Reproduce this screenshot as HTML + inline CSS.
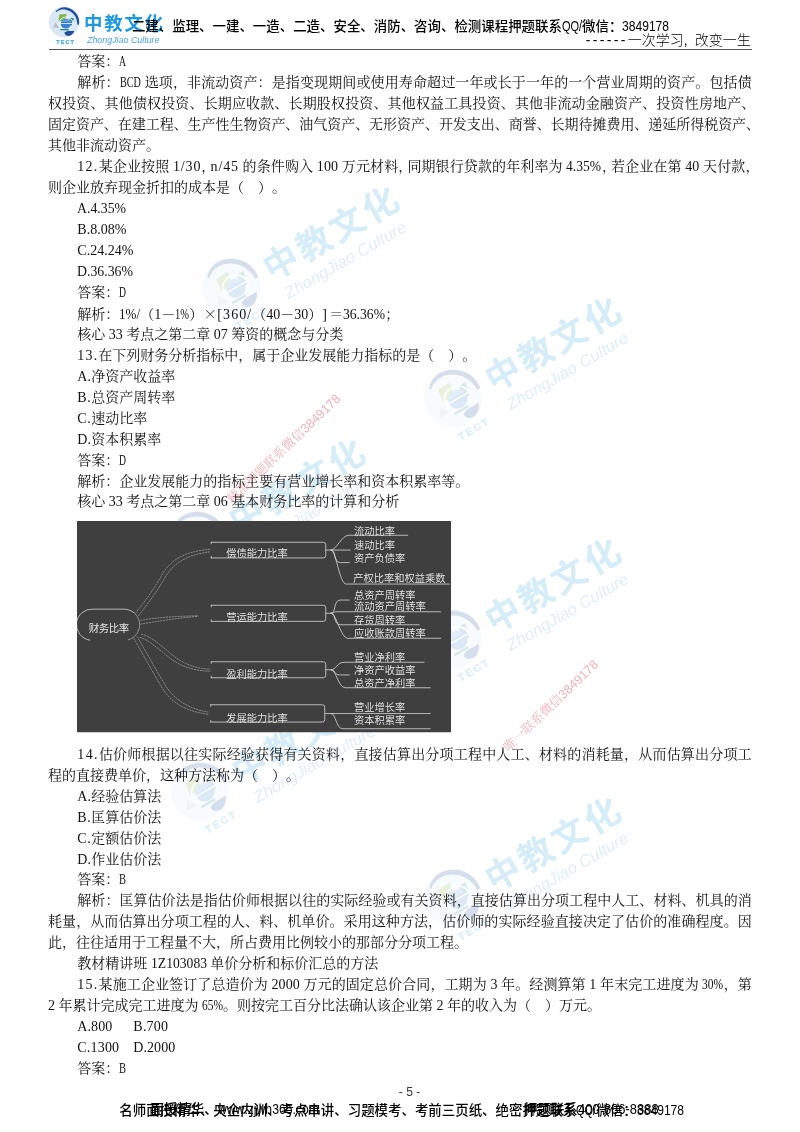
<!DOCTYPE html>
<html lang="zh-CN">
<head>
<meta charset="utf-8">
<title>中教文化 - 5 -</title>
<style>
html,body{margin:0;padding:0;background:#fff;}
body{width:800px;height:1132px;position:relative;overflow:hidden;font-kerning:none;text-spacing-trim:space-all;text-autospace:no-autospace;
 font-family:"Liberation Serif","Noto Serif CJK SC",serif;color:#000;}
.ln{position:absolute;white-space:pre;font-size:14px;line-height:21px;height:21px;color:#111;}
#page{position:absolute;left:0;top:0;width:800px;height:1132px;will-change:transform;}
.h{display:inline-block;white-space:pre;letter-spacing:0;transform-origin:0 50%;}
.m{font-family:"Liberation Mono",monospace;font-size:13.3px;}
.fw{display:inline-block;width:14px;text-align:center;letter-spacing:0;font-family:"Noto Serif CJK SC",serif;}
.hd{position:absolute;white-space:pre;font-family:"Liberation Sans","Noto Sans CJK SC",sans-serif;color:#000;}
.rule{position:absolute;left:48.5px;top:48.8px;width:703.5px;height:1.2px;background:#555;}
svg.logo{position:absolute;left:44px;top:0px;overflow:visible;}
svg.wm{position:absolute;overflow:visible;transform-origin:20px 22px;transform:rotate(-30deg) scale(1.9);opacity:.185;}
.red{position:absolute;white-space:nowrap;font-size:12.7px;line-height:14px;color:#d8404c;opacity:.42;
 transform:translate(-50%,-50%) rotate(-43.8deg);font-family:"Liberation Sans","Noto Serif CJK SC",serif;}
#dia{position:absolute;left:76.75px;top:521.25px;}
</style>
</head>
<body>
<div id="page">
<!-- watermarks (behind) -->
<svg class="wm" style="left:211.3px;top:264.5px" width="130" height="48" viewBox="0 0 130 48">
<circle cx="20" cy="22" r="15.3" fill="#d9e7f6"/>
<path d="M11.6 11.6 C13.6 8.6 17.4 7 21 7.2 C26 7.5 30.6 10.4 33.4 15 C35 17.8 35.6 21.4 35 24.8 L33.3 24.6 C33.3 21.6 32.6 18.6 31 16 C28.6 12.2 24.8 9.8 20.6 9.4 C17.6 9.2 14.6 10.2 12.4 12.2 Z" fill="#1f4f9e"/>
<path d="M20.4 32.6 C21.6 31.2 24 30.8 26.4 31 C28 31.1 29.4 31 30.4 30.8 C29.6 33.6 27.2 35.8 24.4 36 C22.4 36 20.6 34.6 20.4 32.6 Z" fill="#1f4f9e"/>
<path d="M15.3 14.4 L22.6 14.1 L21.2 20.8 L14.4 21.6 Z" fill="#7db54a"/>
<path d="M25.6 18 L29.8 18 L28.2 25.2 L25 25.2 Z" fill="#2f8c94"/>
<path d="M8.8 27.6 L11.7 22.6 L14.8 27.8 Z" fill="#b8bcc8"/>
<ellipse cx="21.9" cy="23.8" rx="5.1" ry="4.8" fill="#3b80cf"/>
<path d="M17.2 22 C18.4 19.6 21 18.6 23.6 19.2 C25.2 19.6 26.4 20.8 26.8 22.2 Z" fill="#5c9bdc"/>
<ellipse cx="21.9" cy="23.3" rx="6.9" ry="6.3" fill="none" stroke="#eef8f2" stroke-width="0.95"/>
<path d="M15.2 23.5 H28.6" stroke="#eef8fb" stroke-width="0.8" fill="none"/>
<path d="M16.3 29 L25 29 L24.4 30.4 L16.3 30.3 Z" fill="#2f8c94"/>
<text x="21.6" y="43.5" text-anchor="middle" font-family="'Liberation Sans','DejaVu Sans',sans-serif" font-weight="700" font-size="5.4" letter-spacing="1.1" stroke="#45aadf" stroke-width="0.25" fill="#45aadf">TECT</text>
<text x="40" y="30.4" font-family="'Liberation Sans','Noto Sans CJK SC','WenQuanYi Zen Hei',sans-serif" font-weight="700" font-size="18.4" textLength="79" lengthAdjust="spacing" fill="#1e98de">中教文化</text>
<text x="43" y="42.7" font-family="'Liberation Sans','DejaVu Sans',sans-serif" font-style="italic" font-size="8.6" textLength="72.5" lengthAdjust="spacingAndGlyphs" fill="#4b9fdc">ZhongJiao Culture</text>
</svg>
<svg class="wm" style="left:177.0px;top:518.0px" width="130" height="48" viewBox="0 0 130 48">
<circle cx="20" cy="22" r="15.3" fill="#d9e7f6"/>
<path d="M11.6 11.6 C13.6 8.6 17.4 7 21 7.2 C26 7.5 30.6 10.4 33.4 15 C35 17.8 35.6 21.4 35 24.8 L33.3 24.6 C33.3 21.6 32.6 18.6 31 16 C28.6 12.2 24.8 9.8 20.6 9.4 C17.6 9.2 14.6 10.2 12.4 12.2 Z" fill="#1f4f9e"/>
<path d="M20.4 32.6 C21.6 31.2 24 30.8 26.4 31 C28 31.1 29.4 31 30.4 30.8 C29.6 33.6 27.2 35.8 24.4 36 C22.4 36 20.6 34.6 20.4 32.6 Z" fill="#1f4f9e"/>
<path d="M15.3 14.4 L22.6 14.1 L21.2 20.8 L14.4 21.6 Z" fill="#7db54a"/>
<path d="M25.6 18 L29.8 18 L28.2 25.2 L25 25.2 Z" fill="#2f8c94"/>
<path d="M8.8 27.6 L11.7 22.6 L14.8 27.8 Z" fill="#b8bcc8"/>
<ellipse cx="21.9" cy="23.8" rx="5.1" ry="4.8" fill="#3b80cf"/>
<path d="M17.2 22 C18.4 19.6 21 18.6 23.6 19.2 C25.2 19.6 26.4 20.8 26.8 22.2 Z" fill="#5c9bdc"/>
<ellipse cx="21.9" cy="23.3" rx="6.9" ry="6.3" fill="none" stroke="#eef8f2" stroke-width="0.95"/>
<path d="M15.2 23.5 H28.6" stroke="#eef8fb" stroke-width="0.8" fill="none"/>
<path d="M16.3 29 L25 29 L24.4 30.4 L16.3 30.3 Z" fill="#2f8c94"/>
<text x="21.6" y="43.5" text-anchor="middle" font-family="'Liberation Sans','DejaVu Sans',sans-serif" font-weight="700" font-size="5.4" letter-spacing="1.1" stroke="#45aadf" stroke-width="0.25" fill="#45aadf">TECT</text>
<text x="40" y="30.4" font-family="'Liberation Sans','Noto Sans CJK SC','WenQuanYi Zen Hei',sans-serif" font-weight="700" font-size="18.4" textLength="79" lengthAdjust="spacing" fill="#1e98de">中教文化</text>
<text x="43" y="42.7" font-family="'Liberation Sans','DejaVu Sans',sans-serif" font-style="italic" font-size="8.6" textLength="72.5" lengthAdjust="spacingAndGlyphs" fill="#4b9fdc">ZhongJiao Culture</text>
</svg>
<svg class="wm" style="left:433.4px;top:375.5px" width="130" height="48" viewBox="0 0 130 48">
<circle cx="20" cy="22" r="15.3" fill="#d9e7f6"/>
<path d="M11.6 11.6 C13.6 8.6 17.4 7 21 7.2 C26 7.5 30.6 10.4 33.4 15 C35 17.8 35.6 21.4 35 24.8 L33.3 24.6 C33.3 21.6 32.6 18.6 31 16 C28.6 12.2 24.8 9.8 20.6 9.4 C17.6 9.2 14.6 10.2 12.4 12.2 Z" fill="#1f4f9e"/>
<path d="M20.4 32.6 C21.6 31.2 24 30.8 26.4 31 C28 31.1 29.4 31 30.4 30.8 C29.6 33.6 27.2 35.8 24.4 36 C22.4 36 20.6 34.6 20.4 32.6 Z" fill="#1f4f9e"/>
<path d="M15.3 14.4 L22.6 14.1 L21.2 20.8 L14.4 21.6 Z" fill="#7db54a"/>
<path d="M25.6 18 L29.8 18 L28.2 25.2 L25 25.2 Z" fill="#2f8c94"/>
<path d="M8.8 27.6 L11.7 22.6 L14.8 27.8 Z" fill="#b8bcc8"/>
<ellipse cx="21.9" cy="23.8" rx="5.1" ry="4.8" fill="#3b80cf"/>
<path d="M17.2 22 C18.4 19.6 21 18.6 23.6 19.2 C25.2 19.6 26.4 20.8 26.8 22.2 Z" fill="#5c9bdc"/>
<ellipse cx="21.9" cy="23.3" rx="6.9" ry="6.3" fill="none" stroke="#eef8f2" stroke-width="0.95"/>
<path d="M15.2 23.5 H28.6" stroke="#eef8fb" stroke-width="0.8" fill="none"/>
<path d="M16.3 29 L25 29 L24.4 30.4 L16.3 30.3 Z" fill="#2f8c94"/>
<text x="21.6" y="43.5" text-anchor="middle" font-family="'Liberation Sans','DejaVu Sans',sans-serif" font-weight="700" font-size="5.4" letter-spacing="1.1" stroke="#45aadf" stroke-width="0.25" fill="#45aadf">TECT</text>
<text x="40" y="30.4" font-family="'Liberation Sans','Noto Sans CJK SC','WenQuanYi Zen Hei',sans-serif" font-weight="700" font-size="18.4" textLength="79" lengthAdjust="spacing" fill="#1e98de">中教文化</text>
<text x="43" y="42.7" font-family="'Liberation Sans','DejaVu Sans',sans-serif" font-style="italic" font-size="8.6" textLength="72.5" lengthAdjust="spacingAndGlyphs" fill="#4b9fdc">ZhongJiao Culture</text>
</svg>
<svg class="wm" style="left:433.4px;top:616.8px" width="130" height="48" viewBox="0 0 130 48">
<circle cx="20" cy="22" r="15.3" fill="#d9e7f6"/>
<path d="M11.6 11.6 C13.6 8.6 17.4 7 21 7.2 C26 7.5 30.6 10.4 33.4 15 C35 17.8 35.6 21.4 35 24.8 L33.3 24.6 C33.3 21.6 32.6 18.6 31 16 C28.6 12.2 24.8 9.8 20.6 9.4 C17.6 9.2 14.6 10.2 12.4 12.2 Z" fill="#1f4f9e"/>
<path d="M20.4 32.6 C21.6 31.2 24 30.8 26.4 31 C28 31.1 29.4 31 30.4 30.8 C29.6 33.6 27.2 35.8 24.4 36 C22.4 36 20.6 34.6 20.4 32.6 Z" fill="#1f4f9e"/>
<path d="M15.3 14.4 L22.6 14.1 L21.2 20.8 L14.4 21.6 Z" fill="#7db54a"/>
<path d="M25.6 18 L29.8 18 L28.2 25.2 L25 25.2 Z" fill="#2f8c94"/>
<path d="M8.8 27.6 L11.7 22.6 L14.8 27.8 Z" fill="#b8bcc8"/>
<ellipse cx="21.9" cy="23.8" rx="5.1" ry="4.8" fill="#3b80cf"/>
<path d="M17.2 22 C18.4 19.6 21 18.6 23.6 19.2 C25.2 19.6 26.4 20.8 26.8 22.2 Z" fill="#5c9bdc"/>
<ellipse cx="21.9" cy="23.3" rx="6.9" ry="6.3" fill="none" stroke="#eef8f2" stroke-width="0.95"/>
<path d="M15.2 23.5 H28.6" stroke="#eef8fb" stroke-width="0.8" fill="none"/>
<path d="M16.3 29 L25 29 L24.4 30.4 L16.3 30.3 Z" fill="#2f8c94"/>
<text x="21.6" y="43.5" text-anchor="middle" font-family="'Liberation Sans','DejaVu Sans',sans-serif" font-weight="700" font-size="5.4" letter-spacing="1.1" stroke="#45aadf" stroke-width="0.25" fill="#45aadf">TECT</text>
<text x="40" y="30.4" font-family="'Liberation Sans','Noto Sans CJK SC','WenQuanYi Zen Hei',sans-serif" font-weight="700" font-size="18.4" textLength="79" lengthAdjust="spacing" fill="#1e98de">中教文化</text>
<text x="43" y="42.7" font-family="'Liberation Sans','DejaVu Sans',sans-serif" font-style="italic" font-size="8.6" textLength="72.5" lengthAdjust="spacingAndGlyphs" fill="#4b9fdc">ZhongJiao Culture</text>
</svg>
<svg class="wm" style="left:180.0px;top:768.6px" width="130" height="48" viewBox="0 0 130 48">
<circle cx="20" cy="22" r="15.3" fill="#d9e7f6"/>
<path d="M11.6 11.6 C13.6 8.6 17.4 7 21 7.2 C26 7.5 30.6 10.4 33.4 15 C35 17.8 35.6 21.4 35 24.8 L33.3 24.6 C33.3 21.6 32.6 18.6 31 16 C28.6 12.2 24.8 9.8 20.6 9.4 C17.6 9.2 14.6 10.2 12.4 12.2 Z" fill="#1f4f9e"/>
<path d="M20.4 32.6 C21.6 31.2 24 30.8 26.4 31 C28 31.1 29.4 31 30.4 30.8 C29.6 33.6 27.2 35.8 24.4 36 C22.4 36 20.6 34.6 20.4 32.6 Z" fill="#1f4f9e"/>
<path d="M15.3 14.4 L22.6 14.1 L21.2 20.8 L14.4 21.6 Z" fill="#7db54a"/>
<path d="M25.6 18 L29.8 18 L28.2 25.2 L25 25.2 Z" fill="#2f8c94"/>
<path d="M8.8 27.6 L11.7 22.6 L14.8 27.8 Z" fill="#b8bcc8"/>
<ellipse cx="21.9" cy="23.8" rx="5.1" ry="4.8" fill="#3b80cf"/>
<path d="M17.2 22 C18.4 19.6 21 18.6 23.6 19.2 C25.2 19.6 26.4 20.8 26.8 22.2 Z" fill="#5c9bdc"/>
<ellipse cx="21.9" cy="23.3" rx="6.9" ry="6.3" fill="none" stroke="#eef8f2" stroke-width="0.95"/>
<path d="M15.2 23.5 H28.6" stroke="#eef8fb" stroke-width="0.8" fill="none"/>
<path d="M16.3 29 L25 29 L24.4 30.4 L16.3 30.3 Z" fill="#2f8c94"/>
<text x="21.6" y="43.5" text-anchor="middle" font-family="'Liberation Sans','DejaVu Sans',sans-serif" font-weight="700" font-size="5.4" letter-spacing="1.1" stroke="#45aadf" stroke-width="0.25" fill="#45aadf">TECT</text>
<text x="40" y="30.4" font-family="'Liberation Sans','Noto Sans CJK SC','WenQuanYi Zen Hei',sans-serif" font-weight="700" font-size="18.4" textLength="79" lengthAdjust="spacing" fill="#1e98de">中教文化</text>
<text x="43" y="42.7" font-family="'Liberation Sans','DejaVu Sans',sans-serif" font-style="italic" font-size="8.6" textLength="72.5" lengthAdjust="spacingAndGlyphs" fill="#4b9fdc">ZhongJiao Culture</text>
</svg>
<svg class="wm" style="left:433.4px;top:875.5px" width="130" height="48" viewBox="0 0 130 48">
<circle cx="20" cy="22" r="15.3" fill="#d9e7f6"/>
<path d="M11.6 11.6 C13.6 8.6 17.4 7 21 7.2 C26 7.5 30.6 10.4 33.4 15 C35 17.8 35.6 21.4 35 24.8 L33.3 24.6 C33.3 21.6 32.6 18.6 31 16 C28.6 12.2 24.8 9.8 20.6 9.4 C17.6 9.2 14.6 10.2 12.4 12.2 Z" fill="#1f4f9e"/>
<path d="M20.4 32.6 C21.6 31.2 24 30.8 26.4 31 C28 31.1 29.4 31 30.4 30.8 C29.6 33.6 27.2 35.8 24.4 36 C22.4 36 20.6 34.6 20.4 32.6 Z" fill="#1f4f9e"/>
<path d="M15.3 14.4 L22.6 14.1 L21.2 20.8 L14.4 21.6 Z" fill="#7db54a"/>
<path d="M25.6 18 L29.8 18 L28.2 25.2 L25 25.2 Z" fill="#2f8c94"/>
<path d="M8.8 27.6 L11.7 22.6 L14.8 27.8 Z" fill="#b8bcc8"/>
<ellipse cx="21.9" cy="23.8" rx="5.1" ry="4.8" fill="#3b80cf"/>
<path d="M17.2 22 C18.4 19.6 21 18.6 23.6 19.2 C25.2 19.6 26.4 20.8 26.8 22.2 Z" fill="#5c9bdc"/>
<ellipse cx="21.9" cy="23.3" rx="6.9" ry="6.3" fill="none" stroke="#eef8f2" stroke-width="0.95"/>
<path d="M15.2 23.5 H28.6" stroke="#eef8fb" stroke-width="0.8" fill="none"/>
<path d="M16.3 29 L25 29 L24.4 30.4 L16.3 30.3 Z" fill="#2f8c94"/>
<text x="21.6" y="43.5" text-anchor="middle" font-family="'Liberation Sans','DejaVu Sans',sans-serif" font-weight="700" font-size="5.4" letter-spacing="1.1" stroke="#45aadf" stroke-width="0.25" fill="#45aadf">TECT</text>
<text x="40" y="30.4" font-family="'Liberation Sans','Noto Sans CJK SC','WenQuanYi Zen Hei',sans-serif" font-weight="700" font-size="18.4" textLength="79" lengthAdjust="spacing" fill="#1e98de">中教文化</text>
<text x="43" y="42.7" font-family="'Liberation Sans','DejaVu Sans',sans-serif" font-style="italic" font-size="8.6" textLength="72.5" lengthAdjust="spacingAndGlyphs" fill="#4b9fdc">ZhongJiao Culture</text>
</svg>
<!-- header -->
<svg class="logo" style="" width="130" height="48" viewBox="0 0 130 48">
<circle cx="20" cy="22" r="15.3" fill="#d9e7f6"/>
<path d="M11.6 11.6 C13.6 8.6 17.4 7 21 7.2 C26 7.5 30.6 10.4 33.4 15 C35 17.8 35.6 21.4 35 24.8 L33.3 24.6 C33.3 21.6 32.6 18.6 31 16 C28.6 12.2 24.8 9.8 20.6 9.4 C17.6 9.2 14.6 10.2 12.4 12.2 Z" fill="#1f4f9e"/>
<path d="M20.4 32.6 C21.6 31.2 24 30.8 26.4 31 C28 31.1 29.4 31 30.4 30.8 C29.6 33.6 27.2 35.8 24.4 36 C22.4 36 20.6 34.6 20.4 32.6 Z" fill="#1f4f9e"/>
<path d="M15.3 14.4 L22.6 14.1 L21.2 20.8 L14.4 21.6 Z" fill="#7db54a"/>
<path d="M25.6 18 L29.8 18 L28.2 25.2 L25 25.2 Z" fill="#2f8c94"/>
<path d="M8.8 27.6 L11.7 22.6 L14.8 27.8 Z" fill="#b8bcc8"/>
<ellipse cx="21.9" cy="23.8" rx="5.1" ry="4.8" fill="#3b80cf"/>
<path d="M17.2 22 C18.4 19.6 21 18.6 23.6 19.2 C25.2 19.6 26.4 20.8 26.8 22.2 Z" fill="#5c9bdc"/>
<ellipse cx="21.9" cy="23.3" rx="6.9" ry="6.3" fill="none" stroke="#eef8f2" stroke-width="0.95"/>
<path d="M15.2 23.5 H28.6" stroke="#eef8fb" stroke-width="0.8" fill="none"/>
<path d="M16.3 29 L25 29 L24.4 30.4 L16.3 30.3 Z" fill="#2f8c94"/>
<text x="21.6" y="43.5" text-anchor="middle" font-family="'Liberation Sans','DejaVu Sans',sans-serif" font-weight="700" font-size="5.4" letter-spacing="1.1" stroke="#45aadf" stroke-width="0.25" fill="#45aadf">TECT</text>
<text x="40" y="30.4" font-family="'Liberation Sans','Noto Sans CJK SC','WenQuanYi Zen Hei',sans-serif" font-weight="700" font-size="18.4" textLength="79" lengthAdjust="spacing" fill="#1e98de">中教文化</text>
<text x="43" y="42.7" font-family="'Liberation Sans','DejaVu Sans',sans-serif" font-style="italic" font-size="8.6" textLength="72.5" lengthAdjust="spacingAndGlyphs" fill="#4b9fdc">ZhongJiao Culture</text>
</svg>
<div class="hd" style="left:131.9px;top:16.3px;font-size:13.45px;line-height:19px;font-weight:500">二建、监理、一建、一造、二造、安全、消防、咨询、检测课程押题联系<span class="h" style="font-size:15.33px;width:20.17px;transform:scaleX(0.7176);margin-right:0.000px">QQ/</span>微信：<span class="h" style="font-size:15.33px;width:47.07px;transform:scaleX(0.7886);margin-right:0.000px">3849178</span></div>
<div class="hd" style="left:585.8px;top:30.8px;font-size:14px;line-height:19px;font-weight:300"><span style="letter-spacing:2.338px">------</span>一次学习<span style="letter-spacing:3.110px">,</span> 改变一生</div>
<div class="rule"></div>
<!-- diagram -->
<svg id="dia" width="374.5" height="211.25" viewBox="76.75 521.25 374.5 211.25">
<rect x="76.75" y="521.25" width="374.5" height="211.25" fill="#3f3f3f"/>
<g fill="none" stroke="#d8d8d8" stroke-width="0.8" stroke-linecap="round">
<path d="M89.5 640.4 A15.6 15.6 0 0 1 92.8 609.4 H123.8 C127 609.4 130.5 610.6 133 612.4"/>
<path d="M133 612.4 A15.6 15.6 0 0 1 128 640" stroke-width="0.55" stroke-dasharray="2.5 0.8"/>
<path d="M211 542.5 H323.0 Q325.5 542.5 325.5 545.0 V555.7 Q325.5 558.2 323.0 558.2 H211"/>
<path d="M211 542.5 v1.6 M211 558.2 v-1.6"/>
<path d="M211 605.5 H323.0 Q325.5 605.5 325.5 608.0 V619.1 Q325.5 621.6 323.0 621.6 H211"/>
<path d="M211 605.5 v1.6 M211 621.6 v-1.6"/>
<path d="M211 662 H323.0 Q325.5 662 325.5 664.5 V675.5 Q325.5 678 323.0 678 H211"/>
<path d="M211 662 v1.6 M211 678 v-1.6"/>
<path d="M210.5 705 H322.0 Q324.5 705 324.5 707.5 V719.8 Q324.5 722.3 322.0 722.3 H210.5"/>
<path d="M210.5 705 v1.6 M210.5 722.3 v-1.6"/>
</g>
<g fill="none" stroke="#cfcfcf" stroke-width="0.55" stroke-dasharray="2.2 0.7" opacity="0.9">
<path d="M135 613.8 C145 601 152 592 160 578 C168 563 180 552 210 549.5"/>
<path d="M138 616.3 C148 603 156 593 163.5 580 C171 566 183 555.5 210 552"/>
<path d="M140 620.6 C155 618 175 616.5 198 616"/>
<path d="M140 624.4 C155 622 175 618.5 198 616.6"/>
<path d="M141 634.5 C150 636 160 645 170 653.5 C180 662 192 668.5 210 669.5"/>
<path d="M139.5 637.5 C148 640 158 649 168 657 C178 665 190 671 210 671.5"/>
<path d="M133.5 638.5 C140 650 150 668 160 685 C168 699 180 711 208 714.5"/>
<path d="M137 637 C144 649 154 667 163.5 683 C171 696 184 708.5 208 712.3"/>
</g>
<g fill="none" stroke="#d8d8d8" stroke-width="0.8" stroke-linecap="round">
<path d="M325.5 550.3 H331"/>
<path d="M331 550.3 C336 550.3 341.5 535.5 348.5 535.5 H407.5"/>
<path d="M331 550.3 H350"/>
<path d="M331 550.3 C336 550.3 333 562.8 340 562.8 H349"/>
<path d="M331 550.3 C336 550.3 339 584.3 346 584.3 H449"/>
<path d="M325.5 613.5 H331"/>
<path d="M331 613.5 C336 613.5 333 600.3 340 600.3 H349"/>
<path d="M331 613.5 C336 613.5 330.5 612 337.5 612 H440.5"/>
<path d="M331 613.5 C336 613.5 333 625 340 625 H418.8"/>
<path d="M331 613.5 C336 613.5 340.5 638.5 347.5 638.5 H440.5"/>
<path d="M325.5 670 H331"/>
<path d="M331 670 C336 670 336.8 662.5 343.8 662.5 H423.8"/>
<path d="M331 670 C336 670 333 675.2 340 675.2 H349"/>
<path d="M331 670 C336 670 338 688 345 688 H430"/>
<path d="M325.5 713.8 H331"/>
<path d="M331 713.8 H430"/>
<path d="M331 713.8 C336 713.8 335.5 729 342.5 729 H430"/>
</g>
<g font-family="'Liberation Sans','Noto Sans CJK SC','WenQuanYi Zen Hei',sans-serif" font-size="10.25" font-weight="350" fill="#e8e8e8">
<text x="88.6" y="631.8" font-size="10.4" font-weight="400" textLength="40.4">财务比率</text>
<text x="226" y="557.1" textLength="61.5">偿债能力比率</text>
<text x="226" y="621.4" textLength="61.5">营运能力比率</text>
<text x="226" y="678.2" textLength="61.5">盈利能力比率</text>
<text x="226" y="722.2" textLength="61.5">发展能力比率</text>
<text x="353.75" y="535.6" textLength="41.0">流动比率</text>
<text x="353.75" y="548.9" textLength="41.0">速动比率</text>
<text x="353.75" y="561.9" textLength="51.2">资产负债率</text>
<text x="353" y="582.4" textLength="92.2">产权比率和权益乘数</text>
<text x="353.75" y="598.9" textLength="61.5">总资产周转率</text>
<text x="353.75" y="610.4" textLength="71.8">流动资产周转率</text>
<text x="353.75" y="623.9" textLength="51.2">存货周转率</text>
<text x="353.75" y="637.4" textLength="71.8">应收账款周转率</text>
<text x="353.75" y="661.4" textLength="51.2">营业净利率</text>
<text x="353.75" y="674.4" textLength="61.5">净资产收益率</text>
<text x="353.75" y="686.9" textLength="61.5">总资产净利率</text>
<text x="353.75" y="710.9" textLength="51.2">营业增长率</text>
<text x="353.75" y="724.4" textLength="51.2">资本积累率</text>
</g>
</svg>
<!-- body text -->
<div class="ln" style="left:77.3px;top:51.10px">答案：<span class="h" style="width:7.00px;transform:scaleX(0.6924);margin-right:0.000px">A</span></div>
<div class="ln" style="left:77.3px;top:72.07px;letter-spacing:0.120px">解析：<span class="h" style="width:21.00px;transform:scaleX(0.7295);margin-right:0.360px">BCD</span> 选项，非流动资产：是指变现期间或使用寿命超过一年或长于一年的一个营业周期的资产。包括债</div>
<div class="ln" style="left:48px;top:93.04px;letter-spacing:0.150px">权投资、其他债权投资、长期应收款、长期股权投资、其他权益工具投资、其他非流动金融资产、投资性房地产、</div>
<div class="ln" style="left:48px;top:114.01px;letter-spacing:-0.039px">固定资产、在建工程、生产性生物资产、油气资产、无形资产、开发支出、商誉、长期待摊费用、递延所得税资产、</div>
<div class="ln" style="left:48px;top:134.98px">其他非流动资产。</div>
<div class="ln" style="left:77.3px;top:155.95px;letter-spacing:0.118px"><span style="letter-spacing:1.285px">12.</span>某企业按照 <span style="letter-spacing:0.896px">1/30</span><span style="margin-right:-5px">，</span><span style="letter-spacing:0.896px">n/45</span> 的条件购入 <span style="letter-spacing:0.118px">100</span> 万元材料<span style="margin-right:-5px">，</span>同期银行贷款的年利率为 <span class="h" style="width:35.00px;transform:scaleX(0.9679);margin-right:0.592px">4.35%</span><span style="margin-right:-5px">，</span>若企业在第 <span style="letter-spacing:0.118px">40</span> 天付款，</div>
<div class="ln" style="left:48px;top:176.92px">则企业放弃现金折扣的成本是（  ）。</div>
<div class="ln" style="left:77.3px;top:197.89px"><span class="h" style="width:49.00px;transform:scaleX(0.9845);margin-right:0.000px">A.4.35%</span></div>
<div class="ln" style="left:77.3px;top:218.86px"><span style="letter-spacing:0.000px">B.8.08%</span></div>
<div class="ln" style="left:77.3px;top:239.83px"><span style="letter-spacing:0.000px">C.24.24%</span></div>
<div class="ln" style="left:77.3px;top:260.80px"><span class="h" style="width:56.00px;transform:scaleX(0.9864);margin-right:0.000px">D.36.36%</span></div>
<div class="ln" style="left:77.3px;top:281.77px">答案：<span class="h" style="width:7.00px;transform:scaleX(0.6924);margin-right:0.000px">D</span></div>
<div class="ln" style="left:77.3px;top:302.74px">解析：<span class="h" style="width:21.00px;transform:scaleX(0.9312);margin-right:0.000px">1%/</span>（<span style="letter-spacing:0.000px">1</span>－<span class="h" style="width:14.00px;transform:scaleX(0.7502);margin-right:0.000px">1%</span>）<span class="fw">×</span><span style="letter-spacing:1.090px">[360/</span>（<span style="letter-spacing:0.000px">40</span>－<span style="letter-spacing:0.000px">30</span>）<span style="letter-spacing:2.338px">]</span>＝<span class="h" style="width:42.00px;transform:scaleX(0.9731);margin-right:0.000px">36.36%</span>；</div>
<div class="ln" style="left:77.3px;top:323.71px">核心 <span style="letter-spacing:0.000px">33</span> 考点之第二章 <span style="letter-spacing:0.000px">07</span> 筹资的概念与分类</div>
<div class="ln" style="left:77.3px;top:344.68px"><span style="letter-spacing:1.167px">13.</span>在下列财务分析指标中，属于企业发展能力指标的是（  ）。</div>
<div class="ln" style="left:77.3px;top:365.65px"><span style="letter-spacing:0.195px">A.</span>净资产收益率</div>
<div class="ln" style="left:77.3px;top:386.62px"><span style="letter-spacing:0.581px">B.</span>总资产周转率</div>
<div class="ln" style="left:77.3px;top:407.59px"><span style="letter-spacing:0.581px">C.</span>速动比率</div>
<div class="ln" style="left:77.3px;top:428.56px"><span style="letter-spacing:0.195px">D.</span>资本积累率</div>
<div class="ln" style="left:77.3px;top:449.53px">答案：<span class="h" style="width:7.00px;transform:scaleX(0.6924);margin-right:0.000px">D</span></div>
<div class="ln" style="left:77.3px;top:470.50px">解析：企业发展能力的指标主要有营业增长率和资本积累率等。</div>
<div class="ln" style="left:77.3px;top:491.47px">核心 <span style="letter-spacing:0.000px">33</span> 考点之第二章 <span style="letter-spacing:0.000px">06</span> 基本财务比率的计算和分析</div>
<div class="ln" style="left:77.3px;top:743.80px;letter-spacing:0.194px"><span style="letter-spacing:1.361px">14.</span>估价师根据以往实际经验获得有关资料，直接估算出分项工程中人工、材料的消耗量，从而估算出分项工</div>
<div class="ln" style="left:48px;top:764.74px">程的直接费单价，这种方法称为（  ）。</div>
<div class="ln" style="left:77.3px;top:785.68px"><span style="letter-spacing:0.195px">A.</span>经验估算法</div>
<div class="ln" style="left:77.3px;top:806.62px"><span style="letter-spacing:0.581px">B.</span>匡算估价法</div>
<div class="ln" style="left:77.3px;top:827.56px"><span style="letter-spacing:0.581px">C.</span>定额估价法</div>
<div class="ln" style="left:77.3px;top:848.50px"><span style="letter-spacing:0.195px">D.</span>作业估价法</div>
<div class="ln" style="left:77.3px;top:869.44px">答案：<span class="h" style="width:7.00px;transform:scaleX(0.7496);margin-right:0.000px">B</span></div>
<div class="ln" style="left:77.3px;top:890.38px;letter-spacing:0.052px">解析：匡算估价法是指估价师根据以往的实际经验或有关资料，直接估算出分项工程中人工、材料、机具的消</div>
<div class="ln" style="left:48px;top:911.32px;letter-spacing:0.076px">耗量，从而估算出分项工程的人、料、机单价。采用这种方法，估价师的实际经验直接决定了估价的准确程度。因</div>
<div class="ln" style="left:48px;top:932.26px">此，往往适用于工程量不大，所占费用比例较小的那部分分项工程。</div>
<div class="ln" style="left:77.3px;top:953.20px">教材精讲班 <span class="h" style="width:56.00px;transform:scaleX(0.9730);margin-right:0.000px">1Z103083</span> 单价分析和标价汇总的方法</div>
<div class="ln" style="left:77.3px;top:974.14px;letter-spacing:0.102px"><span style="letter-spacing:1.268px">15.</span>某施工企业签订了总造价为 <span style="letter-spacing:0.102px">2000</span> 万元的固定总价合同，工期为 <span style="letter-spacing:0.102px">3</span> 年。经测算第 <span style="letter-spacing:0.102px">1</span> 年末完工进度为 <span class="h" style="width:21.00px;transform:scaleX(0.8183);margin-right:0.305px">30%</span>，第</div>
<div class="ln" style="left:48px;top:995.08px"><span style="letter-spacing:0.000px">2</span> 年累计完成完工进度为 <span class="h" style="width:21.00px;transform:scaleX(0.8183);margin-right:0.000px">65%</span>。则按完工百分比法确认该企业第 <span style="letter-spacing:0.000px">2</span> 年的收入为（  ）万元。</div>
<div class="ln" style="left:77.3px;top:1016.02px"><span style="letter-spacing:0.078px">A.800</span>   <span style="letter-spacing:0.232px">B.700</span></div>
<div class="ln" style="left:77.3px;top:1036.96px"><span style="letter-spacing:0.194px">C.1300</span>  <span style="letter-spacing:0.065px">D.2000</span></div>
<div class="ln" style="left:77.3px;top:1057.90px">答案：<span class="h" style="width:7.00px;transform:scaleX(0.7496);margin-right:0.000px">B</span></div>
<!-- red watermarks -->
<div class="red" style="left:284px;top:448.8px">精准押题联系微信3849178</div>
<div class="red" style="left:551px;top:705.6px">唯一联系微信3849178</div>
<!-- footer -->
<div class="hd" style="left:398.8px;top:1085.3px;font-size:12px;line-height:14px;color:#333">- 5 -</div>
<div class="hd" style="left:150.5px;top:1098.9px;font-size:13.45px;line-height:19px;font-weight:500">面授精华、<span class="h" style="font-size:15.33px;width:100.88px;transform:scaleX(0.7945);margin-right:0.000px">www.zjwh365.com</span></div>
<div class="hd" style="left:524px;top:1098.9px;font-size:13.45px;line-height:19px;font-weight:500">押题联系<span class="h" style="font-size:15.33px;width:80.70px;transform:scaleX(0.8451);margin-right:0.000px">400-886-8888</span></div>
<div class="hd" style="left:119.3px;top:1100.4px;font-size:13.45px;line-height:19px;font-weight:500">名师面授精华、央企内训、考点串讲、习题模考、考前三页纸、绝密押题联系<span class="h" style="font-size:15.33px;width:20.17px;transform:scaleX(0.7176);margin-right:0.000px">QQ/</span>微信：<span class="h" style="font-size:15.33px;width:47.07px;transform:scaleX(0.7886);margin-right:0.000px">3849178</span></div>
</div>
</body>
</html>
